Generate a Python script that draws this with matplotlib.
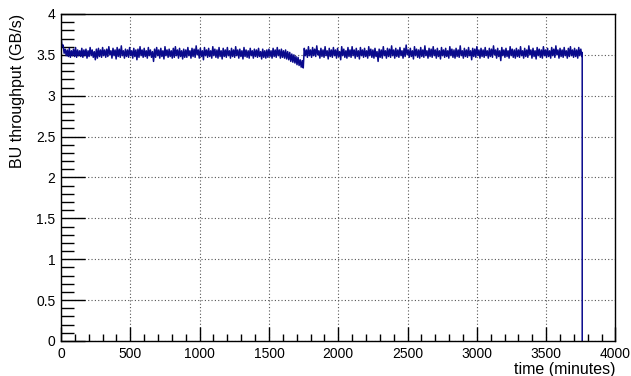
import numpy as np
import matplotlib
matplotlib.use("Agg")
from matplotlib import pyplot as plt
from matplotlib.ticker import MultipleLocator

plt.rcParams['font.family'] = ['Liberation Sans', 'DejaVu Sans']

time_step = 15
end_time = 3760
band_high = [
    3.72, 3.62, 3.57, 3.56, 3.58, 3.55, 3.57, 3.59, 3.56, 3.55, 3.58, 3.56, 3.57, 3.55, 3.59, 3.56, 3.54, 3.57, 3.58, 3.56,
    3.59, 3.56, 3.57, 3.60, 3.55, 3.58, 3.56, 3.59, 3.57, 3.61, 3.55, 3.57, 3.56, 3.59, 3.55, 3.58, 3.56, 3.57, 3.60, 3.56,
    3.58, 3.55, 3.59, 3.56, 3.54, 3.57, 3.59, 3.56, 3.58, 3.55, 3.60, 3.56, 3.57, 3.55, 3.58, 3.60, 3.56, 3.58, 3.55, 3.57,
    3.56, 3.59, 3.55, 3.58, 3.57, 3.61, 3.56, 3.58, 3.55, 3.59, 3.56, 3.58, 3.55, 3.60, 3.57, 3.56, 3.59, 3.55, 3.58, 3.56,
    3.59, 3.55, 3.58, 3.56, 3.60, 3.56, 3.57, 3.55, 3.59, 3.56, 3.55, 3.58, 3.55, 3.57, 3.56, 3.58, 3.54, 3.57, 3.55, 3.56,
    3.57, 3.55, 3.58, 3.56, 3.59, 3.56, 3.57, 3.55, 3.56, 3.54, 3.53, 3.51, 3.50, 3.48, 3.47, 3.44, 3.43, 3.58, 3.56, 3.60,
    3.56, 3.59, 3.57, 3.61, 3.55, 3.58, 3.56, 3.60, 3.55, 3.58, 3.56, 3.59, 3.56, 3.58, 3.54, 3.60, 3.57, 3.55, 3.59, 3.56,
    3.60, 3.56, 3.58, 3.55, 3.59, 3.56, 3.58, 3.55, 3.60, 3.57, 3.56, 3.58, 3.54, 3.57, 3.56, 3.60, 3.55, 3.58, 3.57, 3.61,
    3.56, 3.58, 3.56, 3.59, 3.55, 3.58, 3.62, 3.56, 3.58, 3.55, 3.60, 3.57, 3.56, 3.59, 3.56, 3.61, 3.55, 3.58, 3.57, 3.60,
    3.56, 3.58, 3.55, 3.59, 3.56, 3.58, 3.55, 3.60, 3.57, 3.56, 3.58, 3.56, 3.61, 3.55, 3.58, 3.56, 3.59, 3.55, 3.58, 3.57,
    3.60, 3.56, 3.58, 3.56, 3.59, 3.55, 3.58, 3.57, 3.61, 3.56, 3.58, 3.55, 3.59, 3.56, 3.58, 3.55, 3.60, 3.57, 3.56, 3.58,
    3.56, 3.60, 3.55, 3.58, 3.56, 3.61, 3.56, 3.58, 3.55, 3.59, 3.57, 3.56, 3.60, 3.56, 3.58, 3.55, 3.59, 3.57, 3.61, 3.56,
    3.58, 3.56, 3.59, 3.55, 3.58, 3.60, 3.56, 3.58, 3.56, 3.59, 3.57,
]
band_low = [
    3.60, 3.52, 3.49, 3.48, 3.47, 3.49, 3.48, 3.47, 3.49, 3.48, 3.47, 3.49, 3.46, 3.48, 3.49, 3.47, 3.44, 3.46, 3.48, 3.47,
    3.49, 3.47, 3.48, 3.50, 3.46, 3.49, 3.45, 3.48, 3.47, 3.49, 3.46, 3.48, 3.47, 3.49, 3.46, 3.48, 3.44, 3.47, 3.49, 3.47,
    3.48, 3.46, 3.49, 3.47, 3.42, 3.47, 3.49, 3.46, 3.48, 3.45, 3.49, 3.47, 3.48, 3.46, 3.47, 3.49, 3.46, 3.48, 3.45, 3.47,
    3.47, 3.49, 3.46, 3.48, 3.47, 3.50, 3.46, 3.48, 3.44, 3.49, 3.47, 3.48, 3.46, 3.49, 3.47, 3.46, 3.48, 3.45, 3.48, 3.47,
    3.49, 3.46, 3.48, 3.47, 3.49, 3.46, 3.48, 3.45, 3.48, 3.47, 3.46, 3.49, 3.46, 3.48, 3.47, 3.48, 3.45, 3.47, 3.46, 3.47,
    3.48, 3.46, 3.48, 3.47, 3.49, 3.46, 3.47, 3.46, 3.45, 3.44, 3.42, 3.41, 3.40, 3.38, 3.37, 3.35, 3.34, 3.49, 3.47, 3.49,
    3.47, 3.49, 3.48, 3.50, 3.46, 3.48, 3.47, 3.49, 3.45, 3.48, 3.47, 3.49, 3.46, 3.48, 3.44, 3.49, 3.47, 3.46, 3.48, 3.47,
    3.49, 3.46, 3.48, 3.45, 3.49, 3.47, 3.48, 3.46, 3.49, 3.47, 3.46, 3.48, 3.42, 3.47, 3.46, 3.49, 3.46, 3.48, 3.47, 3.49,
    3.46, 3.48, 3.47, 3.49, 3.46, 3.48, 3.50, 3.47, 3.48, 3.45, 3.49, 3.47, 3.46, 3.48, 3.47, 3.49, 3.46, 3.48, 3.47, 3.49,
    3.46, 3.48, 3.45, 3.49, 3.47, 3.48, 3.46, 3.49, 3.47, 3.46, 3.48, 3.47, 3.49, 3.46, 3.48, 3.47, 3.49, 3.44, 3.48, 3.47,
    3.49, 3.46, 3.48, 3.47, 3.49, 3.46, 3.48, 3.47, 3.50, 3.46, 3.48, 3.43, 3.49, 3.47, 3.48, 3.46, 3.49, 3.47, 3.46, 3.48,
    3.47, 3.49, 3.46, 3.48, 3.47, 3.50, 3.46, 3.48, 3.45, 3.49, 3.47, 3.46, 3.49, 3.47, 3.48, 3.46, 3.49, 3.47, 3.50, 3.46,
    3.48, 3.47, 3.49, 3.46, 3.48, 3.49, 3.47, 3.48, 3.46, 3.49, 3.48,
]
last_value = 3.53

# zigzag between the top and bottom of the band within each bin
n = len(band_high)
t_high = np.arange(n) * time_step
t_low = t_high + time_step / 2
t = np.empty(2 * n)
t[0::2] = t_high
t[1::2] = t_low
y = np.empty(2 * n)
y[0::2] = band_high
y[1::2] = band_low
t = list(t) + [end_time, end_time]
y = list(y) + [last_value, 0.0]

fig = plt.figure(figsize=(6.31, 3.76), dpi=100)
ax = fig.add_axes([0.0967, 0.0931, 0.8787, 0.8697])

ax.plot(t, y, color="#0a0a8c", lw=1.1)

ax.set_xlim(0, 4000)
ax.set_ylim(0, 4)
ax.xaxis.set_major_locator(MultipleLocator(500))
ax.xaxis.set_minor_locator(MultipleLocator(100))
ax.yaxis.set_minor_locator(MultipleLocator(0.1))
ax.set_yticks([0, 0.5, 1, 1.5, 2, 2.5, 3, 3.5, 4])
ax.set_yticklabels(["0", "0.5", "1", "1.5", "2", "2.5", "3", "3.5", "4"])

ax.tick_params(which="both", direction="in", top=False, right=False, labelsize=10)
ax.tick_params(axis="x", which="major", length=10, width=1, pad=4)
ax.tick_params(axis="x", which="minor", length=5, width=1)
ax.tick_params(axis="y", which="major", length=17, width=1, pad=4)
ax.tick_params(axis="y", which="minor", length=9, width=1)

ax.grid(True, which="major", color="#555555", linestyle=(0, (1, 2)), lw=0.8)

for s in ax.spines.values():
    s.set_linewidth(1)

ax.set_xlabel("time (minutes)", loc="right", fontsize=11.5, labelpad=1)
ax.set_ylabel("BU throughput (GB/s)", loc="top", fontsize=11.5, labelpad=8)

plt.savefig("out.png")
